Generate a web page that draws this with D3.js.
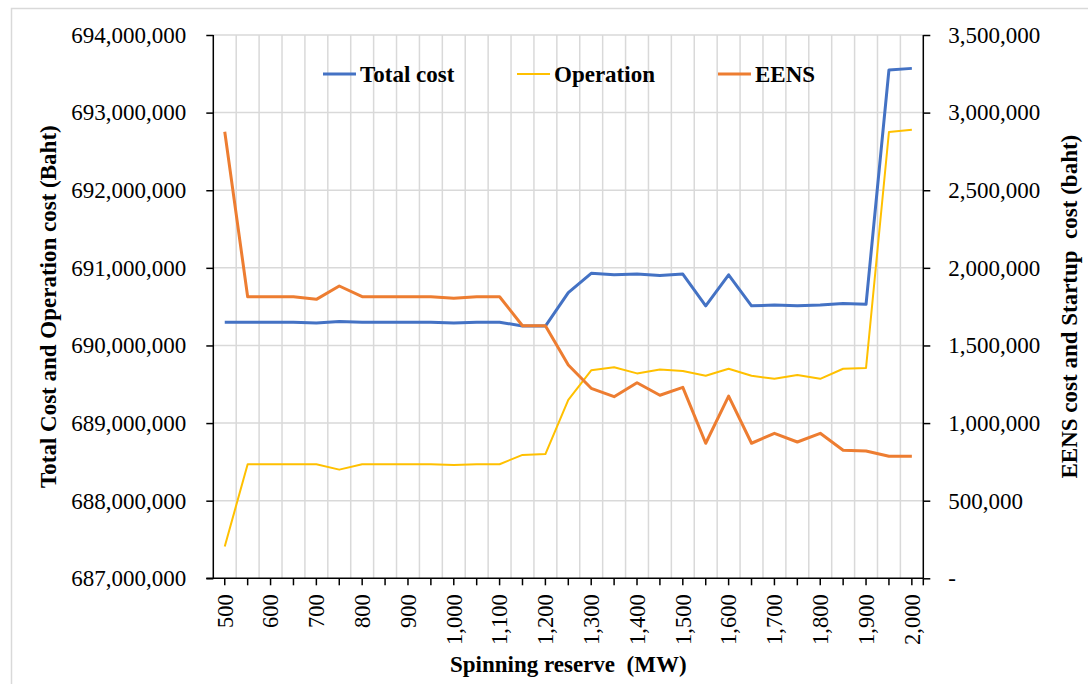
<!DOCTYPE html>
<html>
<head>
<meta charset="utf-8">
<script src="https://cdn.jsdelivr.net/npm/d3@7"></script>
<style>
  html, body { margin: 0; padding: 0; background: #fff; }
</style>
</head>
<body>
<script>
// data
const reserve = [500, 550, 600, 650, 700, 750, 800, 850, 900, 950, 1000, 1050, 1100, 1150, 1200,
  1250, 1300, 1350, 1400, 1450, 1500, 1550, 1600, 1650, 1700, 1750, 1800, 1850, 1900, 1950, 2000];

const totalCost = [690300000, 690300000, 690300000, 690300000, 690290000, 690310000, 690300000, 690300000,
  690300000, 690300000, 690290000, 690300000, 690300000, 690250000, 690250000, 690680000, 690930000,
  690910000, 690920000, 690900000, 690920000, 690510000, 690910000, 690510000, 690520000, 690510000,
  690520000, 690540000, 690530000, 693550000, 693570000];

const operation = [687410000, 688470000, 688470000, 688470000, 688470000, 688400000, 688470000, 688470000,
  688470000, 688470000, 688460000, 688470000, 688470000, 688590000, 688600000, 689300000, 689680000,
  689720000, 689640000, 689690000, 689670000, 689610000, 689700000, 689610000, 689570000, 689620000,
  689570000, 689700000, 689710000, 692750000, 692780000];

const eens = [2877000, 1814000, 1814000, 1814000, 1797000, 1883000, 1814000, 1814000, 1814000, 1814000,
  1804000, 1814000, 1814000, 1627000, 1627000, 1374000, 1224000, 1170000, 1260000, 1179000, 1230000,
  870000, 1174000, 870000, 934000, 878000, 934000, 825000, 820000, 786000, 786000];

const leftTicks = [687000000, 688000000, 689000000, 690000000, 691000000, 692000000, 693000000, 694000000];
const rightTicks = [0, 500000, 1000000, 1500000, 2000000, 2500000, 3000000, 3500000];

const seriesNames = ["Total cost", "Operation", "EENS"];
const seriesColors = ["#4472C4", "#FFC000", "#ED7D31"];

const FONT = "'Liberation Serif', 'Times New Roman', serif";
const W = 1088, H = 684;
const plotLeft = 213.3, plotRight = 923.3, plotTop = 35, plotBottom = 578.3;

const svg = d3.select("body")
    .append("svg")
    .attr("width", W)
    .attr("height", H);

// chart frame
svg.append("rect")
    .attr("x", 11.5).attr("y", 8.5)
    .attr("width", W + 20).attr("height", H + 20)
    .attr("fill", "none")
    .attr("stroke", "#d9d9d9")
    .attr("stroke-width", 1.5);

const x = d3.scaleBand().domain(reserve).range([plotLeft, plotRight]).padding(0);
const cx = function (d) { return x(d) + x.bandwidth() / 2; };
const yL = d3.scaleLinear().domain([687000000, 694000000]).range([plotBottom, plotTop]);
const yR = d3.scaleLinear().domain([0, 3500000]).range([plotBottom, plotTop]);
const fmt = d3.format(",");

// gridlines
svg.append("g").selectAll("line")
    .data(leftTicks.slice(1))
    .enter().append("line")
    .attr("x1", plotLeft).attr("x2", plotRight)
    .attr("y1", function (d) { return yL(d); })
    .attr("y2", function (d) { return yL(d); })
    .attr("stroke", "#d9d9d9").attr("stroke-width", 1.5);

svg.append("g").selectAll("line")
    .data(reserve.slice(1))
    .enter().append("line")
    .attr("x1", function (d) { return x(d); })
    .attr("x2", function (d) { return x(d); })
    .attr("y1", plotTop).attr("y2", plotBottom)
    .attr("stroke", "#d9d9d9").attr("stroke-width", 1.5);

// axes
const leftAxis = svg.append("g")
    .attr("transform", "translate(" + plotLeft + ",0)")
    .call(d3.axisLeft(yL).tickValues(leftTicks).tickFormat(fmt).tickSize(7).tickSizeOuter(0).tickPadding(20));

const rightAxis = svg.append("g")
    .attr("transform", "translate(" + plotRight + ",0)")
    .call(d3.axisRight(yR).tickValues(rightTicks)
        .tickFormat(function (d) { return d === 0 ? "-" : fmt(d); })
        .tickSize(7).tickSizeOuter(0).tickPadding(18));

const bottomAxis = svg.append("g")
    .attr("transform", "translate(0," + plotBottom + ")")
    .call(d3.axisBottom(x).tickSize(7).tickSizeOuter(0)
        .tickFormat(function (d, i) { return i % 2 === 0 ? fmt(d) : ""; }));

// extra tick at the right end of the category axis
bottomAxis.append("line")
    .attr("x1", plotRight).attr("x2", plotRight)
    .attr("y1", 0).attr("y2", 7)
    .attr("stroke", "#000").attr("stroke-width", 1.5);

[leftAxis, rightAxis, bottomAxis].forEach(function (g) {
    g.attr("font-family", null).attr("font-size", null);
    g.select(".domain").attr("stroke", "#000").attr("stroke-width", 1.5);
    g.selectAll(".tick line").attr("stroke", "#000").attr("stroke-width", 1.5);
    g.selectAll("text")
        .attr("fill", "#000")
        .style("font-family", FONT)
        .style("font-size", "23px");
});
rightAxis.select(".domain").attr("d", "M0," + plotTop + "V" + plotBottom);
leftAxis.select(".domain").attr("d", "M0," + plotTop + "V" + plotBottom);
bottomAxis.select(".domain").attr("d", "M" + (plotLeft - 7) + ",0H" + plotRight);

bottomAxis.selectAll(".tick text")
    .attr("transform", "rotate(-90)")
    .attr("text-anchor", "end")
    .attr("x", -16)
    .attr("y", 0)
    .attr("dy", "0.35em")
    .style("font-size", "22.5px");

// lines
const series = [totalCost, operation, eens];
const scales = [yL, yL, yR];
const widths = [3, 2, 3];

series.forEach(function (vals, k) {
    const line = d3.line()
        .x(function (d, i) { return cx(reserve[i]); })
        .y(function (d) { return scales[k](d); });
    svg.append("path")
        .datum(vals)
        .attr("d", line)
        .attr("fill", "none")
        .attr("stroke", seriesColors[k])
        .attr("stroke-width", widths[k])
        .attr("stroke-linejoin", "round");
});

// legend
const legendX = [323, 517, 718];
const legend = svg.append("g").selectAll("g")
    .data(seriesNames)
    .enter().append("g")
    .attr("transform", function (d, i) { return "translate(" + legendX[i] + ",74)"; });

legend.append("line")
    .attr("x1", 0).attr("x2", 33)
    .attr("stroke", function (d, i) { return seriesColors[i]; })
    .attr("stroke-width", function (d, i) { return widths[i]; });

legend.append("text")
    .attr("x", 37)
    .attr("dy", "0.35em")
    .attr("fill", "#000")
    .style("font-family", FONT)
    .style("font-size", "23px")
    .style("font-weight", "bold")
    .text(function (d) { return d; });

// axis titles
function title(t, transform) {
    svg.append("text")
        .attr("transform", transform)
        .attr("text-anchor", "middle")
        .attr("fill", "#000")
        .style("font-family", FONT)
        .style("font-size", "23px")
        .style("font-weight", "bold")
        .style("white-space", "pre")
        .text(t);
}
title("Spinning reserve  (MW)", "translate(" + ((plotLeft + plotRight) / 2) + ",672)");
title("Total Cost and Operation cost (Baht)", "translate(56," + ((plotTop + plotBottom) / 2) + ") rotate(-90)");
title("EENS cost and Startup  cost (baht)", "translate(1077," + ((plotTop + plotBottom) / 2) + ") rotate(-90)");
</script>
</body>
</html>
